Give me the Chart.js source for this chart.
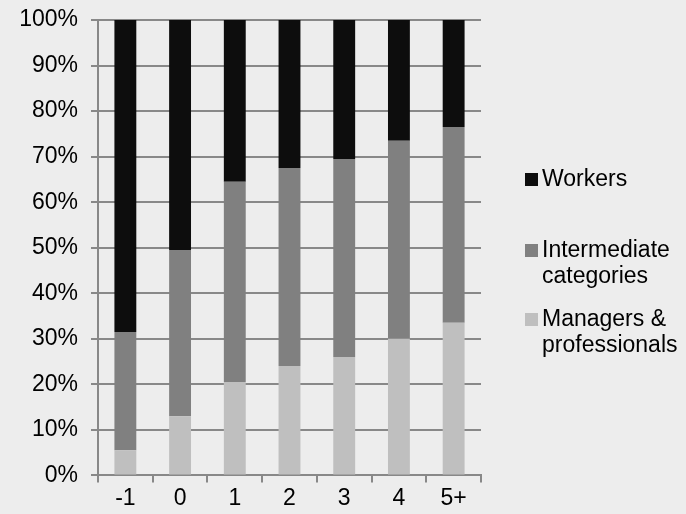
<!DOCTYPE html>
<html>
<head>
<meta charset="utf-8">
<script src="https://cdn.jsdelivr.net/npm/chart.js@4"></script>
<style>
  html, body { margin: 0; padding: 0; background: #ededed; }
  #wrap { width: 686px; height: 514px; }
</style>
</head>
<body>
<div id="wrap"><canvas id="myChart" width="686" height="514"></canvas></div>
<script>
// categories along the bottom
const categories = ['-1', '0', '1', '2', '3', '4', '5+'];

// shares in percent
const managers = [5.5, 13, 20.5, 24, 26, 30, 33.5];
const intermediate = [26, 36.5, 44, 43.5, 43.5, 43.5, 43];
const workers = [68.5, 50.5, 35.5, 32.5, 30.5, 26.5, 23.5];

const seriesNames = ['Managers & professionals', 'Intermediate categories', 'Workers'];
const legendLines = [['Managers &', 'professionals'], ['Intermediate', 'categories'], ['Workers']];
const colours = ['#bfbfbf', '#808080', '#0d0d0d'];

const font = { family: 'Liberation Sans, Arial, sans-serif', size: 23 };

// simple legend drawn on the right, top item = last dataset
const sideLegend = {
  id: 'sideLegend',
  afterDraw(chart) {
    const ctx = chart.ctx;
    const ys = [179, 250, 319]; // first line of each item, top to bottom
    ctx.save();
    ctx.font = font.size + 'px ' + font.family;
    ctx.textBaseline = 'middle';
    const order = [2, 1, 0];
    order.forEach((d, i) => {
      const ds = chart.data.datasets[d];
      ctx.fillStyle = ds.backgroundColor;
      ctx.fillRect(525, ys[i] - 6, 13, 13);
      ctx.fillStyle = '#000';
      legendLines[d].forEach((line, j) => {
        ctx.fillText(line, 542, ys[i] + 1 + j * 26);
      });
    });
    ctx.restore();
  }
};

const myChart = document.getElementById('myChart');
new Chart(myChart, {
  type: 'bar',
  data: {
    labels: categories,
    datasets: [
      { label: seriesNames[0], data: managers, backgroundColor: colours[0] },
      { label: seriesNames[1], data: intermediate, backgroundColor: colours[1] },
      { label: seriesNames[2], data: workers, backgroundColor: colours[2] }
    ]
  },
  options: {
    responsive: false,
    animation: false,
    layout: { padding: { top: 20, right: 205, bottom: 0, left: 0 } },
    datasets: { bar: { barPercentage: 0.4, categoryPercentage: 1 } },
    plugins: { legend: { display: false }, tooltip: { enabled: false } },
    scales: {
      x: {
        stacked: true,
        offset: true,
        grid: { offset: true, drawOnChartArea: false, color: '#888', lineWidth: 2, tickLength: 7 },
        border: { color: '#888', width: 2 },
        ticks: { color: '#000', font: font, padding: 2 }
      },
      y: {
        stacked: true,
        min: 0,
        max: 100,
        afterFit: s => { s.width = 98; s.paddingTop = 0; s.paddingBottom = 0; },
        grid: { color: '#888', lineWidth: 2, tickLength: 7 },
        border: { color: '#888', width: 2 },
        ticks: { stepSize: 10, color: '#000', font: font, padding: 13, callback: v => v + '%' }
      }
    }
  },
  plugins: [sideLegend]
});
</script>
</body>
</html>
